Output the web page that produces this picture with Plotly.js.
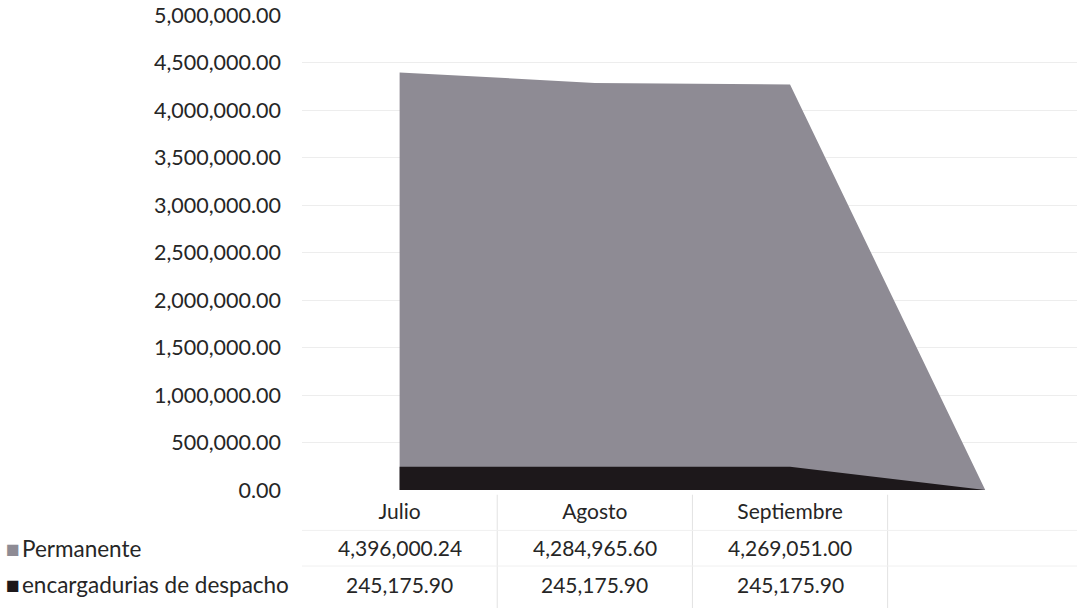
<!DOCTYPE html>
<html>
<head>
<meta charset="utf-8">
<script src="https://cdn.plot.ly/plotly-3.0.1.min.js"></script>
<style>
  html, body { margin: 0; padding: 0; background: #ffffff; }
  #chart { width: 1077px; height: 608px; }
</style>
</head>
<body>
<div id="chart"></div>
<script>
// Categories (the fourth one is the empty column of the source sheet)
const categories = ['Julio', 'Agosto', 'Septiembre', ''];
const seriesNames = ['Permanente', 'encargadurias de despacho'];
const permanente = [4396000.24, 4284965.60, 4269051.00, 0];
const encargadurias = [245175.90, 245175.90, 245175.90, 0];
// How many categories carry real values in the data table
const filledCount = 3;

const colors = ['#8e8b94', '#1d181b'];
const FONT = 'Lato, "Open Sans", sans-serif';
const FS = 21;
const TXT = '#262626';
const xIdx = categories.map((_, i) => i);

function fmt(v) {
  return v.toLocaleString('en-US', {minimumFractionDigits: 2, maximumFractionDigits: 2});
}

const traces = [
  {
    x: xIdx, y: permanente, name: seriesNames[0], type: 'scatter', mode: 'lines',
    line: {width: 0, color: colors[0]}, fill: 'tozeroy', fillcolor: colors[0],
    hoverinfo: 'skip', showlegend: false
  },
  {
    x: xIdx, y: encargadurias, name: seriesNames[1], type: 'scatter', mode: 'lines',
    line: {width: 0, color: colors[1]}, fill: 'tozeroy', fillcolor: colors[1],
    hoverinfo: 'skip', showlegend: false
  }
];

// Data table rows below the plot
const rowY = [-0.122, -0.198];
const seriesValues = [permanente, encargadurias];
const annotations = [];
seriesNames.forEach((name, r) => {
  annotations.push({
    xref: 'paper', yref: 'paper', x: -0.385, y: rowY[r], xanchor: 'left', yanchor: 'middle',
    showarrow: false, align: 'left',
    text: '<span style="color:' + colors[r] + ';font-size:23px">■</span><span style="font-size:8px">&nbsp;</span>' + name,
    font: {family: FONT, size: FS + 1.5, color: TXT}
  });
  seriesValues[r].forEach((v, i) => {
    if (i >= filledCount) return;
    annotations.push({
      xref: 'x', yref: 'paper', x: xIdx[i], y: rowY[r], xanchor: 'center', yanchor: 'middle',
      showarrow: false, text: fmt(v),
      font: {family: FONT, size: FS, color: TXT}
    });
  });
});

// Table grid lines
const shapes = [];
[0.5, 1.5, 2.5].forEach(xv => {
  shapes.push({type: 'line', xref: 'x', yref: 'paper', x0: xv, x1: xv, y0: -0.01, y1: -0.25,
    line: {color: '#e2e2e2', width: 1}});
});
[-0.085, -0.16].forEach(yv => {
  shapes.push({type: 'line', xref: 'paper', yref: 'paper', x0: 0.0, x1: 1, y0: yv, y1: yv,
    line: {color: '#f0f0f0', width: 1}});
});

const layout = {
  width: 1077, height: 608,
  margin: {l: 302, r: 0, t: 15, b: 118},
  paper_bgcolor: '#ffffff', plot_bgcolor: '#ffffff',
  showlegend: false,
  font: {family: FONT, size: FS, color: TXT},
  xaxis: {
    range: [-0.5, 3.47],
    tickmode: 'array', tickvals: xIdx, ticktext: categories,
    showgrid: false, zeroline: false, showline: false, ticks: '',
    tickfont: {family: FONT, size: FS, color: TXT},
    ticklabelstandoff: 7
  },
  yaxis: {
    range: [0, 5000000], dtick: 500000, tickformat: ',.2f',
    showgrid: true, gridcolor: '#ededed', gridwidth: 1,
    zeroline: false, showline: false, ticks: '',
    tickfont: {family: FONT, size: FS + 0.5, color: TXT},
    ticklabelstandoff: 20
  },
  annotations: annotations,
  shapes: shapes
};

Plotly.newPlot('chart', traces, layout, {displayModeBar: false, staticPlot: true});
</script>
</body>
</html>
